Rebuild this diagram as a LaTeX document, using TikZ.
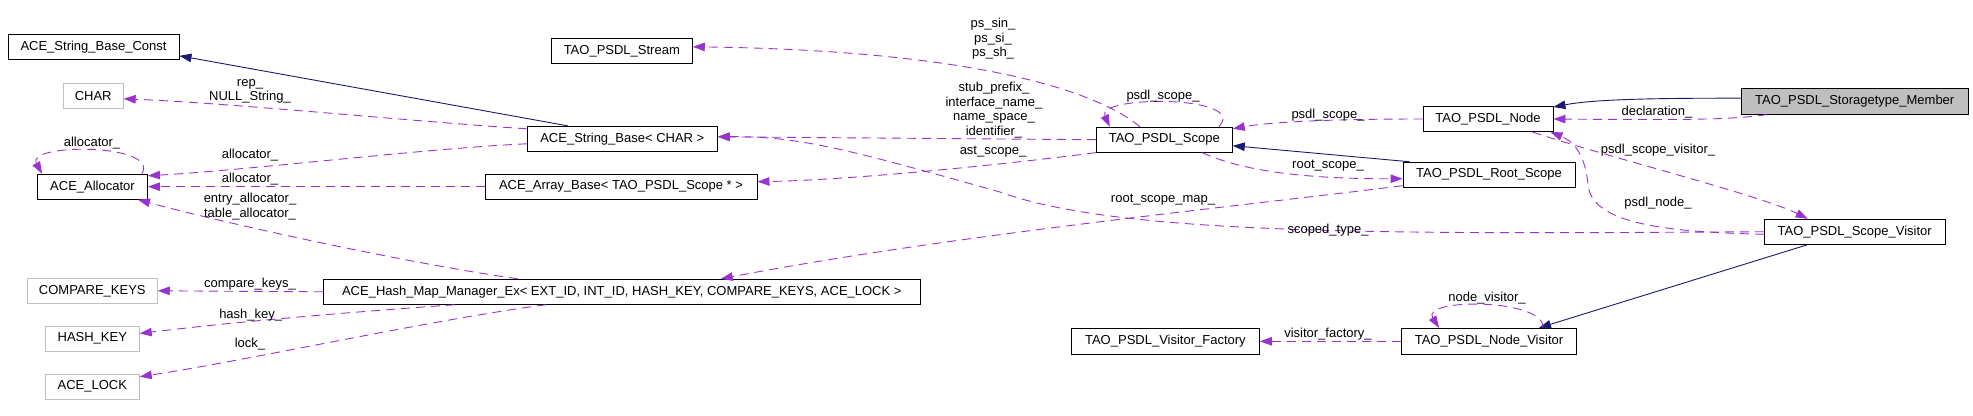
\documentclass[tikz,border=0pt]{standalone}
\usepackage{fontspec}
\setmainfont{Liberation Sans}
\usepackage{tikz}
\usetikzlibrary{calc,arrows.meta}
\definecolor{inhcol}{RGB}{25,25,112}
\definecolor{attrcol}{RGB}{154,50,205}
\definecolor{extcol}{RGB}{191,191,191}

\begin{document}
\begin{tikzpicture}[x=1pt,y=-1pt,
    cls/.style={draw=black,line width=0.9pt,inner sep=0pt,minimum height=25pt,font=\fontsize{13}{14.6}\selectfont},
    ext/.style={cls,draw=extcol},
    lbl/.style={inner sep=0pt,align=center,font=\fontsize{13}{14.6}\selectfont},
    inh/.style={draw=inhcol,line width=0.9pt,-{Triangle[length=12pt,width=8.5pt]}},
    attr/.style={draw=attrcol,line width=0.9pt,dash pattern=on 9pt off 6pt,-{Triangle[length=12pt,width=8.5pt]}}]
    \useasboundingbox (0,0) rectangle (1973,415);

    \node[cls,minimum width=171pt] (strconst) at (93.5,46.8) {ACE\_String\_Base\_Const};
    \node[ext,minimum width=60pt] (chr) at (93.2,95.8) {CHAR};
    \node[cls,minimum width=110pt] (alloc) at (92.5,186.7) {ACE\_Allocator};
    \node[cls,minimum width=190pt] (strbase) at (622.3,138.8) {ACE\_String\_Base< CHAR >};
    \node[cls,minimum width=272pt] (arrbase) at (621,186.7) {ACE\_Array\_Base< TAO\_PSDL\_Scope * >};
    \node[cls,minimum width=141pt] (stream) at (621.8,50.8) {TAO\_PSDL\_Stream};
    \node[ext,minimum width=130pt] (cmpkeys) at (92.3,290.8) {COMPARE\_KEYS};
    \node[ext,minimum width=94pt] (hashkey) at (92.3,338.5) {HASH\_KEY};
    \node[ext,minimum width=94pt] (lock) at (92.3,386.7) {ACE\_LOCK};
    \node[cls,minimum width=597pt] (hashmap) at (621.8,291.8) {ACE\_Hash\_Map\_Manager\_Ex< EXT\_ID, INT\_ID, HASH\_KEY, COMPARE\_KEYS, ACE\_LOCK >};
    \node[cls,minimum width=136pt] (scope) at (1164.3,139.7) {TAO\_PSDL\_Scope};
    \node[cls,minimum width=130pt] (psdlnode) at (1488,119) {TAO\_PSDL\_Node};
    \node[cls,minimum width=172pt] (rootscope) at (1489,174.7) {TAO\_PSDL\_Root\_Scope};
    \node[cls,fill=extcol,minimum width=227pt,minimum height=26pt] (member) at (1854.7,101.2) {TAO\_PSDL\_Storagetype\_Member};
    \node[cls,minimum width=181pt] (scopevis) at (1854.7,231.7) {TAO\_PSDL\_Scope\_Visitor};
    \node[cls,minimum width=188pt,minimum height=26pt] (factory) at (1165.4,341.3) {TAO\_PSDL\_Visitor\_Factory};
    \node[cls,minimum width=175pt,minimum height=26pt] (nodevis) at (1489,341.3) {TAO\_PSDL\_Node\_Visitor};

    \draw[inh] ($(strbase.north west)+(41,0)$) -- ($(strconst.east)+(0,9)$);
    \draw[inh] ($(rootscope.north west)+(7,0)$) -- ($(scope.east)+(0,6)$);
    \draw[inh] ($(member.west)+(0,-3)$) .. controls (1640,98) and (1590,100) .. ($(psdlnode.north east)+(0,1)$);
    \draw[inh] ($(scopevis.south west)+(44,0)$) -- ($(nodevis.north)+(50,0)$);

    \draw[attr] ($(member.south west)+(26,0)$) .. controls (1730,120) and (1680,120) .. (psdlnode.east);
    \draw[attr] (psdlnode.west) .. controls (1330,119) and (1270,122) .. ($(scope.north east)+(0,2)$);
    \draw[attr] ($(scope.north east)+(-14,0)$) .. controls (1250,95) and (1095,95) .. ($(scope.north west)+(14,0)$);
    \draw[attr] ($(scope.north west)+(44,0)$) .. controls (1090,85) and (950,50) .. ($(stream.east)+(0,-4)$);
    \draw[attr] (scope.west) -- ($(strbase.east)+(0,-2)$);
    \draw[attr] (scopevis.west) .. controls (1400,234) and (1120,236) .. (1000,192) .. controls (850,150) and (800,136) .. ($(strbase.east)+(0,-2)$);
    \draw[attr] (scope.south west) .. controls (1000,165) and (850,180) .. ($(arrbase.east)+(0,-5)$);
    \draw[attr] ($(scope.south)+(38,0)$) .. controls (1240,170) and (1300,179) .. ($(rootscope.west)+(0,4)$);
    \draw[attr] ($(rootscope.west)+(0,11)$) .. controls (1250,205) and (950,235) .. ($(hashmap.north)+(99,0)$);
    \draw[attr] ($(scopevis.west)+(0,2.5)$) .. controls (1650,232) and (1592,220) .. (1588,185) .. controls (1585,150) and (1570,140) .. ($(psdlnode.south east)+(-3,0)$);
    \draw[attr] ($(psdlnode.south east)+(-21,0)$) .. controls (1600,155) and (1760,195) .. ($(scopevis.north west)+(44,0)$);
    \draw[attr] (nodevis.west) -- (factory.east);
    \draw[attr] ($(nodevis.north)+(54,0)$) .. controls (1545,298) and (1420,298) .. ($(nodevis.north west)+(38,0)$);
    \draw[attr] ($(strbase.west)+(0,-10)$) .. controls (420,122) and (230,103) .. ($(chr.east)+(0,3)$);
    \draw[attr] ($(strbase.west)+(0,5)$) .. controls (430,148) and (250,170) .. ($(alloc.north east)+(0,2)$);
    \draw[attr] (arrbase.west) -- (alloc.east);
    \draw[attr] ($(alloc.north east)+(-6,0)$) .. controls (160,143) and (25,143) .. ($(alloc.north west)+(5,0)$);
    \draw[attr] ($(hashmap.north west)+(195,0)$) .. controls (400,262) and (220,222) .. ($(alloc.south east)+(-10,0)$);
    \draw[attr] (hashmap.west) -- (cmpkeys.east);
    \draw[attr] ($(hashmap.south west)+(132,0)$) .. controls (380,310) and (250,320) .. ($(hashkey.east)+(0,-5)$);
    \draw[attr] ($(hashmap.south west)+(223,0)$) .. controls (430,320) and (250,360) .. ($(lock.east)+(0,-10)$);

    \node[lbl] (lrep) at (250,91.3) {rep\_\\NULL\_String\_};
    \node[lbl] (lallocself) at (92,143.3) {allocator\_};
    \node[lbl] (lallocstr) at (250,155) {allocator\_};
    \node[lbl] (lallocarr) at (250,179) {allocator\_};
    \node[lbl] (lentry) at (250,206.5) {entry\_allocator\_\\table\_allocator\_};
    \node[lbl] (lcmp) at (250,284) {compare\_keys\_};
    \node[lbl] (lhash) at (250.7,315) {hash\_key\_};
    \node[lbl] (llock) at (250,344) {lock\_};
    \node[lbl] (lps) at (993,39) {ps\_sin\_\\ps\_si\_\\ps\_sh\_};
    \node[lbl] (lstub) at (994,110) {stub\_prefix\_\\interface\_name\_\\name\_space\_\\identifier\_};
    \node[lbl] (last) at (993,152) {ast\_scope\_};
    \node[lbl] (lscopeself) at (1163,96) {psdl\_scope\_};
    \node[lbl] (lscope) at (1328,115) {psdl\_scope\_};
    \node[lbl] (lroot) at (1328,165.7) {root\_scope\_};
    \node[lbl] (lrootmap) at (1163,200) {root\_scope\_map\_};
    \node[lbl] (lscoped) at (1328,230) {scoped\_type\_};
    \node[lbl] (lnodevis) at (1487,297.7) {node\_visitor\_};
    \node[lbl] (lfactory) at (1328,334) {visitor\_factory\_};
    \node[lbl] (ldecl) at (1657,111.7) {declaration\_};
    \node[lbl] (lscopevis) at (1658,150) {psdl\_scope\_visitor\_};
    \node[lbl] (lpsdlnode) at (1658,203) {psdl\_node\_};
\end{tikzpicture}
\end{document}
